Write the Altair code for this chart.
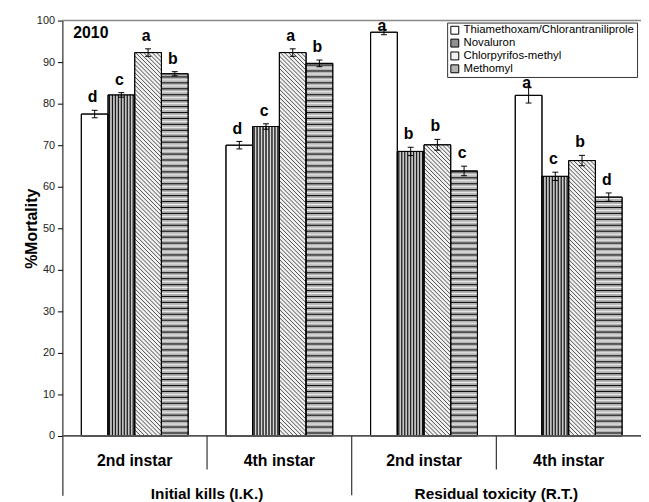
import altair as alt
import pandas as pd

# ---------------- data ----------------
group_labels = ["2nd instar", "4th instar", "2nd instar", "4th instar"]
stage_labels = ["Initial kills (I.K.)", "Residual toxicity (R.T.)"]
treatments = ["Thiamethoxam/Chlorantraniliprole", "Novaluron",
              "Chlorpyrifos-methyl", "Methomyl"]

thiam = [77.5, 70.0, 97.2, 82.0]
noval = [82.1, 74.5, 68.5, 62.5]
chlor = [92.3, 92.3, 70.1, 66.3]
meth = [87.2, 89.7, 63.8, 57.5]

thiam_err = [0.9, 0.9, 0.6, 1.85]
noval_err = [0.55, 0.65, 1.0, 1.0]
chlor_err = [0.9, 0.9, 1.3, 1.25]
meth_err = [0.5, 0.8, 1.15, 1.0]

thiam_let = ["d", "d", "a", "a"]
noval_let = ["c", "c", "b", "c"]
chlor_let = ["a", "a", "b", "b"]
meth_let = ["b", "b", "c", "d"]

values = [thiam, noval, chlor, meth]
errors = [thiam_err, noval_err, chlor_err, meth_err]
letters = [thiam_let, noval_let, chlor_let, meth_let]
fills = ["#ffffff", "#8f8f8f", "#f2f2f2", "#b4b4b4"]

# ---------------- geometry ----------------
W = 585
H = 480
YMIN, YMAX = -14.3, 100
PXX = W / 4.0
PXY = H / (YMAX - YMIN)
BW = 27.0 / PXX

LEG_X, LEG_Y = 389, 2          # legend position inside the plot (px)
LEG_H = 4 * 12 + 2 * 2
leg_left_val = LEG_X / PXX - 0.5
leg_bottom_val = YMAX - (LEG_Y + LEG_H + 9) / PXY

rows, lines = [], []
for g in range(4):
    for s in range(4):
        v = values[s][g]
        e = errors[s][g]
        x0 = g + (s - 2) * BW
        x1 = x0 + BW
        xc = (x0 + x1) / 2
        ly = min(v + e + 13.0 / PXY, 98.6)
        if xc > leg_left_val:
            ly = min(ly, leg_bottom_val)
        rows.append(dict(treatment=treatments[s], x0=x0, x1=x1, xc=xc, v=v,
                         lo=v - e, hi=v + e,
                         cl=xc - 3.0 / PXX, cr=xc + 3.0 / PXX,
                         letter=letters[s][g], ly=ly))
        top_px = v * PXY
        if s == 1:  # vertical stripes
            k = 0
            while (k + 1) * 1.5 < 27:
                xp = x0 + (k + 1) * 1.5 / PXX
                black = (k % 2 == 0)
                lines.append(dict(x=xp, x2=xp, y=0, y2=v,
                                  c="#111111" if black else "#ffffff",
                                  w=1.0 if black else 0.7))
                k += 1
        elif s == 3:  # horizontal stripes
            k = 0
            while (k + 1) * 3.0 < top_px - 0.5:
                yp = (k + 1) * 3.0 / PXY
                black = (k % 2 == 0)
                lines.append(dict(x=x0, x2=x1, y=yp, y2=yp,
                                  c="#111111" if black else "#ffffff",
                                  w=1.1 if black else 0.8))
                k += 1
        elif s == 2:  # diagonal hatch "\\"
            u0, u1 = x0 * PXX, x1 * PXX
            c = u0 + 2.0
            while c < u1 + top_px:
                ua = max(u0, c - top_px)
                ub = min(u1, c)
                if ub - ua > 0.3:
                    lines.append(dict(x=ua / PXX, x2=ub / PXX,
                                      y=(c - ua) / PXY, y2=(c - ub) / PXY,
                                      c="#222222", w=0.8))
                c += 4.2

df = pd.DataFrame(rows)
ldf = pd.DataFrame(lines)

xs = alt.Scale(domain=[-0.5, 3.5], nice=False, zero=False)
ys = alt.Scale(domain=[YMIN, YMAX], nice=False, zero=False)

base = alt.Chart(df)

bars = base.mark_rect(stroke="black", strokeWidth=1).encode(
    x=alt.X("x0:Q", scale=xs, axis=None),
    x2="x1:Q",
    y=alt.Y("v:Q", scale=ys,
            axis=alt.Axis(values=list(range(0, 101, 10)), title="%Mortality",
                          titleFontWeight="bold", titleFontSize=16,
                          titleColor="black", titleX=-31, titleY=210,
                          titleAngle=270, titleAlign="center",
                          titleBaseline="middle",
                          labelFontSize=11, labelColor="#222222",
                          labelPadding=3, tickSize=5, tickColor="black",
                          domainColor="black", domainWidth=1, grid=False)),
    y2=alt.datum(0),
    fill=alt.Fill("treatment:N",
                  scale=alt.Scale(domain=treatments, range=fills),
                  legend=alt.Legend(title=None, orient="none", legendX=LEG_X,
                                    legendY=LEG_Y, symbolType="square",
                                    symbolSize=64, symbolStrokeColor="black",
                                    symbolStrokeWidth=1, labelFontSize=11.5,
                                    labelColor="black", labelLimit=400,
                                    labelOffset=3, fillColor="white",
                                    strokeColor="#333333", padding=2,
                                    rowPadding=0)),
)

pattern = alt.Chart(ldf).mark_rule().encode(
    x=alt.X("x:Q", scale=xs), x2="x2:Q",
    y=alt.Y("y:Q", scale=ys), y2="y2:Q",
    color=alt.Color("c:N", scale=None),
    strokeWidth=alt.StrokeWidth("w:Q", scale=None),
)

outline = base.mark_rect(fillOpacity=0, stroke="black", strokeWidth=1).encode(
    x=alt.X("x0:Q", scale=xs), x2="x1:Q",
    y=alt.Y("v:Q", scale=ys), y2=alt.datum(0),
)

err_v = base.mark_rule(color="black", strokeWidth=1).encode(
    x=alt.X("xc:Q", scale=xs), y=alt.Y("lo:Q", scale=ys), y2="hi:Q")
err_t = base.mark_rule(color="black", strokeWidth=1).encode(
    x=alt.X("cl:Q", scale=xs), x2="cr:Q", y=alt.Y("hi:Q", scale=ys))
err_b = base.mark_rule(color="black", strokeWidth=1).encode(
    x=alt.X("cl:Q", scale=xs), x2="cr:Q", y=alt.Y("lo:Q", scale=ys))

let_text = base.mark_text(fontWeight="bold", fontSize=16, dx=-2,
                          baseline="middle", color="black").encode(
    x=alt.X("xc:Q", scale=xs), y=alt.Y("ly:Q", scale=ys), text="letter:N")

# frame lines
frame_df = pd.DataFrame({"x": [-0.5], "x2": [3.5]})
zero_line = alt.Chart(frame_df).mark_rule(color="#555555", strokeWidth=1.8).encode(
    x=alt.X("x:Q", scale=xs), x2="x2:Q", y=alt.datum(0))
top_line = alt.Chart(frame_df).mark_rule(color="#888888", strokeWidth=1.5).encode(
    x=alt.X("x:Q", scale=xs), x2="x2:Q", y=alt.datum(100))

# category axis underneath
gdf = pd.DataFrame({"g": [0, 1, 2, 3], "label": group_labels})
sdf = pd.DataFrame({"g": [0.5, 2.5], "label": stage_labels})
sep_short = pd.DataFrame({"x": [0.5, 2.5]})
sep_long = pd.DataFrame({"x": [1.5]})

g_text = alt.Chart(gdf).mark_text(fontWeight="bold", fontSize=16,
                                  baseline="middle", color="black").encode(
    x=alt.X("g:Q", scale=xs), y=alt.datum(-6.0), text="label:N")
s_text = alt.Chart(sdf).mark_text(fontWeight="bold", fontSize=15.5,
                                  baseline="middle", color="black").encode(
    x=alt.X("g:Q", scale=xs), y=alt.datum(-14.0), text="label:N")
short_rules = alt.Chart(sep_short).mark_rule(color="#333333", strokeWidth=1.2).encode(
    x=alt.X("x:Q", scale=xs), y=alt.datum(0), y2=alt.datum(-8.1))
long_rules = alt.Chart(sep_long).mark_rule(color="#333333", strokeWidth=1.2).encode(
    x=alt.X("x:Q", scale=xs), y=alt.datum(0), y2=alt.datum(YMIN))

year_text = alt.Chart(pd.DataFrame({"t": ["2010"]})).mark_text(
    fontWeight="bold", fontSize=16, align="left", baseline="middle",
    dx=11, color="black").encode(
    x=alt.datum(-0.5), y=alt.datum(96.9), text="t:N")

chart = alt.layer(
    bars, pattern, outline, err_v, err_t, err_b, let_text,
    zero_line, top_line, g_text, s_text, short_rules, long_rules, year_text,
).properties(
    width=W, height=H,
    autosize=alt.AutoSizeParams(type="none"),
    padding={"left": 55, "top": 10, "right": 0, "bottom": 4},
).configure(font="Arial").configure_view(stroke=None)

chart.save("out.html", embed_options={"renderer": "svg", "actions": False})
